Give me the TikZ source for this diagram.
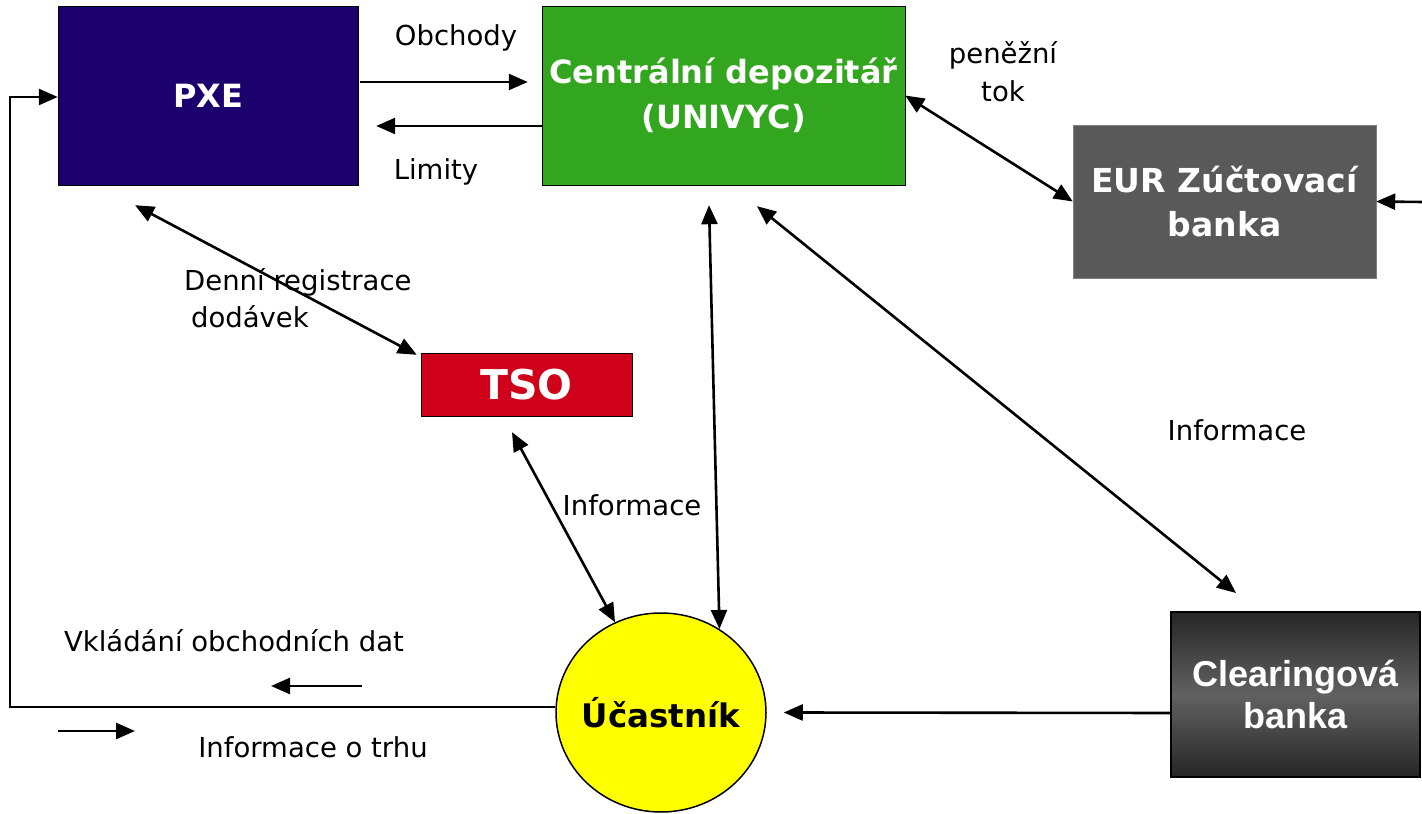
\documentclass[tikz,border=0pt]{standalone}
\usepackage{fontspec}
\setmainfont{DejaVu Sans}
\newfontfamily\arialfont{Liberation Sans}
\usetikzlibrary{calc,positioning,arrows.meta,shapes.geometric}
\definecolor{pxeblue}{HTML}{1B006E}
\definecolor{cdgreen}{HTML}{33A61F}
\definecolor{tsored}{HTML}{D0021B}
\definecolor{eurgray}{HTML}{595959}
\definecolor{ucyellow}{HTML}{FFFF00}

\begin{document}
\begin{tikzpicture}[x=1pt,y=1pt]
\tikzstyle{blk}=[draw, rectangle, inner sep = 0pt, text=white, align=center, font=\fontsize{32}{45}\selectfont\bfseries]
\tikzstyle{lbl}=[inner sep = 2pt, align=center, font=\fontsize{27.5}{38}\selectfont]
\tikzstyle{arr}=[line width=2.6pt, -{Triangle[length=19pt,width=16pt]}]
\tikzstyle{darr}=[line width=2.6pt, {Triangle[length=19pt,width=16pt]}-{Triangle[length=19pt,width=16pt]}]

\useasboundingbox (0,0) rectangle (1422,814);

\node[blk, fill=pxeblue, minimum width=300, minimum height=179] (PXE) at (208,718.5) {PXE};
\node[blk, fill=cdgreen, minimum width=363, minimum height=179] (CD) at (723.5,718.5) {Centrální depozitář\\(UNIVYC)};
\node[blk, fill=eurgray, draw=gray, minimum width=303, minimum height=153, font=\fontsize{33}{44}\selectfont\bfseries] (EUR) at (1224.5,612.5) {EUR Zúčtovací\\banka};
\node[blk, fill=tsored, minimum width=211, minimum height=63, font=\fontsize{41}{45}\selectfont\bfseries] (TSO) at (526.5,429.5) {TSO};
\node[ellipse, draw, line width=1.5pt, fill=ucyellow, inner sep=0pt, minimum width=210, minimum height=199, font=\fontsize{32.5}{40}\selectfont\bfseries] (UC) at (661,101.5) {\makebox[0pt]{Účastník}};
\node[blk, line width=2pt, top color=black!85, bottom color=black!85, middle color=black!62, minimum width=249, minimum height=165, font=\arialfont\fontsize{36}{42}\selectfont\bfseries] (CB) at (1295.5,119.5) {Clearingová\\banka};

% konce sipek
\coordinate (pxeA) at ($(PXE.east)+(2,13.5)$);
\coordinate (cdA) at ($(CD.west)+(-14,13.5)$);
\coordinate (cdB) at ($(CD.west)+(0,-30.5)$);
\coordinate (pxeB) at ($(PXE.east)+(18,-30.5)$);
\coordinate (pxeC) at ($(PXE.south)+(-73,-20)$);
\coordinate (tsoA) at ($(TSO.north west)+(-4,-2)$);
\coordinate (cdC) at ($(CD.south)+(-14.5,-20)$);
\coordinate (cdD) at ($(CD.south)+(33.5,-21)$);
\coordinate (cbA) at ($(CB.north)+(-59.5,18)$);
\coordinate (tsoB) at ($(TSO.south)+(-14.5,-16)$);
\coordinate (cbB) at ($(CB.west)+(0,-18.5)$);
\coordinate (ucA) at ($(UC.east)+(17,0)$);
\coordinate (ucB) at ($(UC.west)+(0,5.5)$);
\coordinate (pxeD) at ($(PXE.west)+(0,-1.5)$);
\coordinate (eurIn) at (1422,612);
\coordinate (loop) at (10,717);
\coordinate (legA) at (362,128);
\coordinate (legB) at (271,128);
\coordinate (legC) at (58,83);
\coordinate (legD) at (135,83);

\foreach \i/\j in {CD.east/EUR.west, pxeC/tsoA, cdC/UC.55, cdD/cbA, tsoB/UC.117}{\draw[darr] (\i) -- (\j);}
\foreach \i/\j in {pxeA/cdA, cdB/pxeB, eurIn/EUR.east, cbB/ucA, legA/legB, legC/legD}{\draw[arr] (\i) -- (\j);}
\draw[arr] (ucB) -| (loop) -- (pxeD);

% popisky
\node[lbl] (obchody) at (456,776) {Obchody};
\node[lbl] (limity) at (436,642) {Limity};
\node[lbl] (tok) at (1003,742.5) {peněžní\\tok};
\node[lbl, align=left, anchor=west, font=\fontsize{27.5}{37}\selectfont] (registrace) at (182,515.5) {Denní registrace\\\hspace{0.25em}dodávek};
\node[lbl] (infoTso) at (632,309) {Informace};
\node[lbl] (infoCb) at (1237,384) {Informace};
\node[lbl] (vklad) at (234,173) {Vkládání obchodních dat};
\node[lbl] (trh) at (313,67) {Informace o trhu};
\end{tikzpicture}
\end{document}
